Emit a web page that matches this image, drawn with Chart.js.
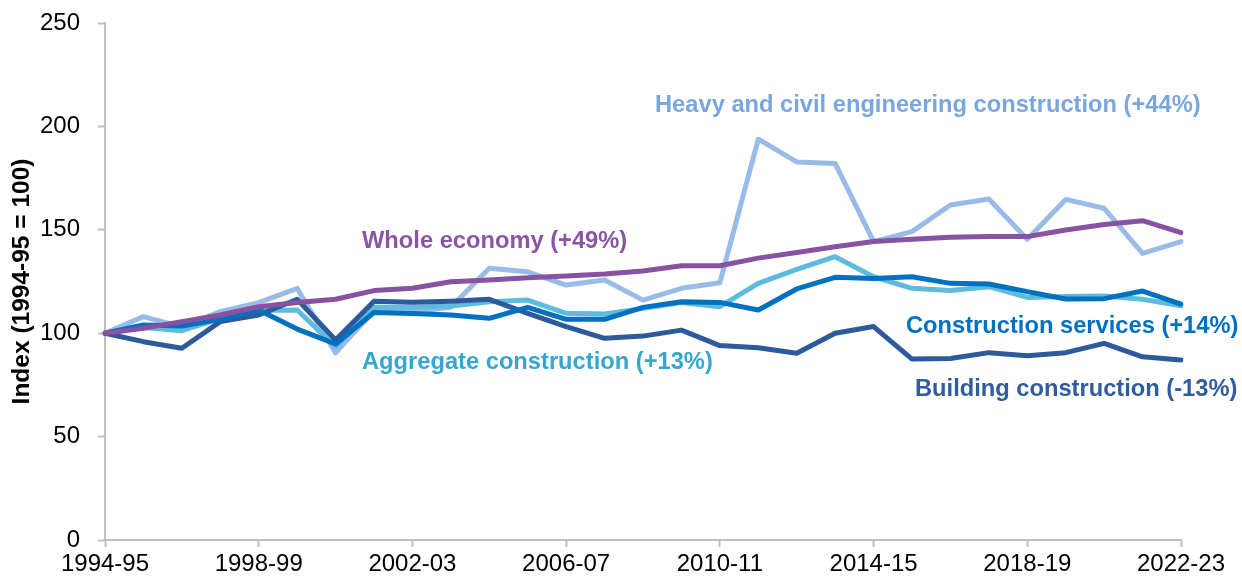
<!DOCTYPE html>
<html lang="en">
<head>
    <meta charset="UTF-8">
    <title>Construction output index</title>
    <script src="https://cdn.jsdelivr.net/npm/chart.js"></script>
    <style>
        html, body { margin: 0; padding: 0; background: #ffffff; }
        #chart { display: block; }
    </style>
</head>
<body>
    <canvas id="chart" width="1242" height="577"></canvas>
    <script>
        // Years (x axis)
        const years = ['1994-95', '1995-96', '1996-97', '1997-98', '1998-99', '1999-00', '2000-01',
            '2001-02', '2002-03', '2003-04', '2004-05', '2005-06', '2006-07', '2007-08', '2008-09',
            '2009-10', '2010-11', '2011-12', '2012-13', '2013-14', '2014-15', '2015-16', '2016-17',
            '2017-18', '2018-19', '2019-20', '2020-21', '2021-22', '2022-23'];

        // Index values (1994-95 = 100)
        const wholeEconomy = [100, 102.4, 105.6, 108.8, 112.8, 114.8, 116.4, 120.6, 121.7, 124.9, 125.7,
            126.8, 127.7, 128.6, 130.1, 132.6, 132.6, 136.3, 139, 141.8, 144.3, 145.4, 146.4, 146.7,
            146.7, 149.9, 152.6, 154.4, 148.6];
        const constructionServices = [100, 104, 103.5, 106.7, 111.2, 102, 94.8, 110, 109.5, 108.8, 107.2,
            112.5, 106.7, 106.7, 112.5, 115.2, 114.9, 111.2, 121.4, 127, 126.5, 127.3, 124.1, 123.8,
            120.1, 116.5, 116.7, 120.4, 114.1];
        const buildingConstruction = [100, 95.9, 92.7, 105.6, 108.8, 116.4, 96.7, 115.5, 115, 115.5, 116.4,
            109.6, 103.2, 97.5, 98.6, 101.5, 94, 93, 90.3, 100, 103.2, 87.5, 87.8, 90.6, 89.1, 90.6,
            95.1, 88.6, 87];
        const aggregateConstruction = [100, 102.8, 101.2, 107.2, 111, 111.2, 93.5, 112.5, 112.5, 113.2, 115.2,
            116, 109.6, 109.3, 112, 114.8, 112.8, 124.1, 130.9, 137, 127.3, 121.7, 120.6, 122.5, 117.3,
            117.7, 118, 116.4, 113.2];
        const heavyCivil = [100, 108, 103, 110.4, 114.8, 121.7, 90.5, 111, 110.4, 112.5, 131.4, 129.7, 123.3,
            125.7, 116, 121.7, 124.4, 193.8, 182.8, 182.1, 144.3, 149.1, 162, 164.9, 145.4, 164.7, 160.4,
            138.6, 144.3];

        const yTicks = [0, 50, 100, 150, 200, 250];

        // labels written straight onto the plot
        const annotations = [
            { text: 'Heavy and civil engineering construction (+44%)', x: 655, y: 105, color: '#79a6de' },
            { text: 'Whole economy (+49%)', x: 362, y: 241, color: '#8b55a5' },
            { text: 'Construction services (+14%)', x: 906, y: 326, color: '#0070c0' },
            { text: 'Aggregate construction (+13%)', x: 362, y: 362, color: '#35a6cf' },
            { text: 'Building construction (-13%)', x: 915, y: 389, color: '#2e5c9e' }
        ];

        const labelPlugin = {
            id: 'lineLabels',
            afterDraw(chart) {
                const ctx = chart.ctx;
                ctx.save();
                ctx.font = 'bold 23.7px "Liberation Sans", Arial, sans-serif';
                ctx.textAlign = 'left';
                ctx.textBaseline = 'middle';
                annotations.forEach(a => {
                    ctx.fillStyle = a.color;
                    ctx.fillText(a.text, a.x, a.y);
                });
                ctx.restore();
            }
        };

        function line(label, data, color) {
            return {
                label: label,
                data: data,
                borderColor: color,
                backgroundColor: color,
                borderWidth: 5,
                pointRadius: 0,
                tension: 0,
                borderJoinStyle: 'round',
                borderCapStyle: 'round',
                fill: false
            };
        }

        const axisGrey = '#bfbfbf';

        new Chart(document.getElementById('chart').getContext('2d'), {
            type: 'line',
            data: {
                labels: years,
                datasets: [
                    line('Whole economy', wholeEconomy, '#8652a1'),
                    line('Construction services', constructionServices, '#0070c0'),
                    line('Building construction', buildingConstruction, '#2c5a9a'),
                    line('Aggregate construction', aggregateConstruction, '#5dbcde'),
                    line('Heavy and civil engineering construction', heavyCivil, '#98bbe7')
                ]
            },
            options: {
                responsive: false,
                animation: false,
                layout: { padding: { top: 23, right: 61, left: 0, bottom: 0 } },
                plugins: {
                    legend: { display: false },
                    tooltip: { enabled: false }
                },
                scales: {
                    x: {
                        offset: false,
                        border: { display: true, color: axisGrey, width: 2 },
                        grid: {
                            drawOnChartArea: false,
                            drawTicks: true,
                            tickLength: 7,
                            tickWidth: 2,
                            tickColor: c => (c.index % 4 === 0 ? axisGrey : 'rgba(0,0,0,0)')
                        },
                        ticks: {
                            autoSkip: false,
                            maxRotation: 0,
                            padding: 3,
                            color: '#000000',
                            font: { family: '"Liberation Sans", Arial, sans-serif', size: 24 },
                            callback: function (value, index) {
                                return index % 4 === 0 ? years[index] : '';
                            }
                        },
                        afterFit: s => { s.height = 37; s.paddingLeft = 0; s.paddingRight = 0; }
                    },
                    y: {
                        min: 0,
                        max: 250,
                        border: { display: true, color: axisGrey, width: 2 },
                        grid: {
                            drawOnChartArea: false,
                            drawTicks: true,
                            tickLength: 7,
                            tickWidth: 2,
                            tickColor: axisGrey
                        },
                        afterBuildTicks: s => { s.ticks = yTicks.map(v => ({ value: v })); },
                        ticks: {
                            padding: 18,
                            color: '#000000',
                            font: { family: '"Liberation Sans", Arial, sans-serif', size: 24 }
                        },
                        title: {
                            display: true,
                            text: 'Index (1994-95 = 100)',
                            color: '#000000',
                            padding: { top: 8, bottom: 0 },
                            font: { family: '"Liberation Sans", Arial, sans-serif', size: 24.5, weight: 'bold' }
                        },
                        afterFit: s => { s.width = 105; s.paddingTop = 0; s.paddingBottom = 0; }
                    }
                }
            },
            plugins: [labelPlugin]
        });
    </script>
</body>
</html>
